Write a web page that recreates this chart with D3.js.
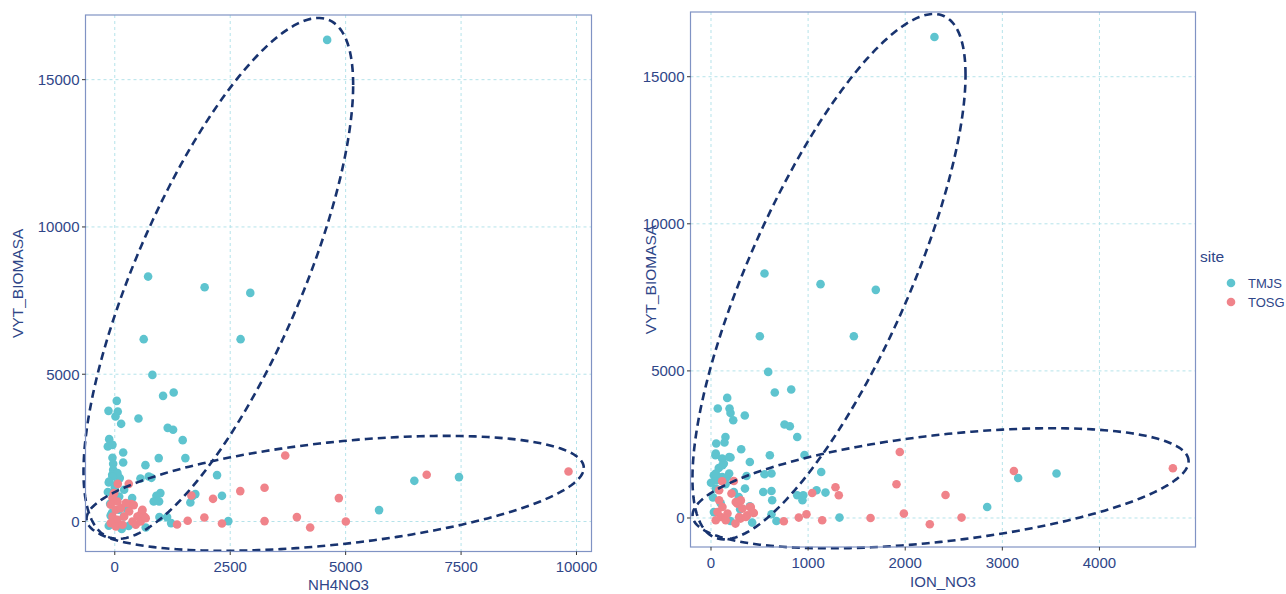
<!DOCTYPE html>
<html>
<head>
<meta charset="utf-8">
<script src="https://cdn.jsdelivr.net/npm/d3@7"></script>
<style>
  body { margin: 0; background: #fff; }
  text { font-family: "Liberation Sans", Arial, sans-serif; }
</style>
</head>
<body>
<svg id="chart" width="1286" height="594"></svg>
<script>
// ---- data ----
const sites = ["TMJS", "TOSG"];
const siteColors = ["#5ec4cf", "#f0838a"];

// NH4NO3 vs VYT_BIOMASA
const nh4TMJS = [[4600,16350],[722,8315],[1946,7955],[2935,7761],[627,6190],[2725,6190],[815,4978],[1046,4266],[1276,4378],
  [43,4096],[-136,3757],[65,3733],[15,3564],[513,3496],[138,3316],[1146,3180],[1263,3115],[1471,2762],[-121,2796],
  [-151,2545],[-50,2603],[182,2342],[-50,2162],[952,2152],[1529,2152],[182,2002],[-35,1958],[664,1914],[-35,1755],
  [-56,1585],[108,1473],[2215,1575],[735,1528],[794,1483],[556,1460],[-130,1324],[52,1302],[1745,930],[1674,848],
  [988,964],[902,872],[2322,872],[1637,645],[843,679],[376,794],[967,150],[1133,150],[2459,14],[1220,-54],[670,-204],
  [-130,-146],[195,170],[87,397],[6488,1381],[7455,1507],[5724,387],[58,1642],[-50,1527],[-121,1357],[203,1076],
  [95,848],[960,679],[-100,600],[-60,300],[30,-100],[150,-250],[300,-150],[250,450],[-150,1000],[0,1150],[-90,200]];
const nh4TOSG = [[65,1279],[303,1279],[-22,940],[1659,882],[2128,770],[2718,1032],[3244,1144],[355,590],[411,557],
  [593,363],[556,227],[1349,-102],[1579,24],[1940,136],[2322,-68],[3244,14],[3692,2240],[3944,150],[4232,-204],
  [4853,794],[5004,0],[6756,1585],[9827,1697],[-13,964],[-50,794],[58,679],[-87,567],[22,397],[130,455],[238,624],
  [311,339],[203,170],[-50,170],[58,58],[-87,-54],[22,-170],[167,-112],[383,0],[491,170],[599,397],[636,170],
  [454,-112],[562,0],[670,115]];

// ION_NO3 vs VYT_BIOMASA
const ionTMJS = [[2301,16350],[551,8313],[1128,7949],[1697,7755],[503,6180],[1471,6180],[589,4966],[657,4265],[826,4367],
  [167,4082],[70,3721],[191,3721],[201,3571],[229,3323],[348,3483],[757,3177],[812,3119],[888,2755],[54,2531],
  [149,2755],[139,2565],[311,2337],[46,2133],[606,2133],[963,2143],[201,2054],[115,2020],[132,1850],[400,1905],
  [1135,1565],[551,1486],[623,1510],[366,1429],[29,1452],[57,1282],[115,1395],[167,1395],[1087,942],[1179,864],
  [538,884],[623,918],[630,602],[888,772],[950,772],[942,602],[235,884],[286,714],[623,126],[674,-102],[424,-156],
  [1323,14],[2844,374],[3163,1361],[3558,1510],[50,1000],[20,700],[100,500],[300,300],[200,-100],[30,200],
  [400,400],[350,1000],[80,1700],[0,1200],[150,1150],[49,2190],[187,2075],[118,1793],[49,1510],[187,1510]];
const ionTOSG = [[115,1248],[235,1259],[211,830],[1042,850],[1282,1044],[1316,772],[750,-112],[904,14],[983,126],
  [1145,-78],[1643,0],[1944,2245],[1910,1146],[1986,150],[2253,-214],[2415,782],[2580,14],[3119,1599],[4756,1690],
  [304,578],[270,490],[400,374],[441,170],[373,92],[304,-20],[252,-190],[84,942],[84,602],[118,374],[67,204],
  [101,34],[152,-78],[49,-78],[170,150],[255,544],[307,602],[324,320],[410,374],[427,204],[290,34],[358,34]];

// 95% ellipses per site: centre plus conjugate half axes (x = cx + a cos t, y = cy + b cos t + c sin t)
const nh4Ellipses = [
  {site: "TMJS", cx: 2243, cy: 8253, a: 2920, b: 6567, c: 5919},
  {site: "TOSG", cx: 4773, cy: 957, a: 5385, b: 865, c: 1748}];
const ionEllipses = [
  {site: "TMJS", cx: 1215, cy: 8204, a: 1406, b: 6854, c: 5723},
  {site: "TOSG", cx: 2364, cy: 1010, a: 2554, b: 918, c: 1823}];

const nh4XTicks = [0, 2500, 5000, 7500, 10000];
const ionXTicks = [0, 1000, 2000, 3000, 4000];
const yTicks = [0, 5000, 10000, 15000];

// ---- drawing ----
const textCol = "#2f4688";
const svg = d3.select("#chart");
const color = d3.scaleOrdinal().domain(sites).range(siteColors);

const panels = [
  {left: 85.5, right: 591.5, top: 15, bottom: 551.5, xDom: [-634, 10325], yDom: [-1018, 17195],
   xTicks: nh4XTicks, xTitle: "NH4NO3", xTickY: 572, xTitleY: 590, yTitleX: 23,
   series: [nh4TMJS, nh4TOSG], ellipses: nh4Ellipses},
  {left: 690.5, right: 1195.5, top: 12, bottom: 547, xDom: [-211, 4989], yDom: [-986, 17200],
   xTicks: ionXTicks, xTitle: "ION_NO3", xTickY: 568, xTitleY: 587, yTitleX: 656,
   series: [ionTMJS, ionTOSG], ellipses: ionEllipses}
];

panels.forEach(p => {
  const x = d3.scaleLinear().domain(p.xDom).range([p.left, p.right]);
  const y = d3.scaleLinear().domain(p.yDom).range([p.bottom, p.top]);
  const g = svg.append("g");

  // grid
  g.selectAll(".gx").data(p.xTicks).enter().append("line")
    .attr("x1", d => x(d)).attr("x2", d => x(d)).attr("y1", p.top).attr("y2", p.bottom)
    .attr("stroke", "#b5e3ea").attr("stroke-width", 1).attr("stroke-dasharray", "3,3");
  g.selectAll(".gy").data(yTicks).enter().append("line")
    .attr("y1", d => y(d)).attr("y2", d => y(d)).attr("x1", p.left).attr("x2", p.right)
    .attr("stroke", "#b5e3ea").attr("stroke-width", 1).attr("stroke-dasharray", "3,3");

  // points
  p.series.forEach((pts, i) => {
    g.append("g").selectAll("circle").data(pts).enter().append("circle")
      .attr("cx", d => x(d[0])).attr("cy", d => y(d[1])).attr("r", 4.3)
      .attr("fill", color(sites[i]));
  });

  // ellipses
  const line = d3.line().x(d => x(d[0])).y(d => y(d[1]));
  p.ellipses.forEach(e => {
    const ring = d3.range(0, 201).map(i => {
      const t = i / 200 * 2 * Math.PI;
      return [e.cx + e.a * Math.cos(t), e.cy + e.b * Math.cos(t) + e.c * Math.sin(t)];
    });
    g.append("path").attr("d", line(ring)).attr("fill", "none")
      .attr("stroke", "#18336f").attr("stroke-width", 2.6).attr("stroke-dasharray", "8,5");
  });

  // border
  g.append("rect").attr("x", p.left).attr("y", p.top)
    .attr("width", p.right - p.left).attr("height", p.bottom - p.top)
    .attr("fill", "none").attr("stroke", "#8093c4").attr("stroke-width", 1.2);

  // axes
  const xa = g.append("g");
  p.xTicks.forEach(t => {
    xa.append("line").attr("x1", x(t)).attr("x2", x(t)).attr("y1", p.bottom).attr("y2", p.bottom + 3.5)
      .attr("stroke", "#333").attr("stroke-width", 1);
    xa.append("text").attr("x", x(t)).attr("y", p.xTickY).attr("text-anchor", "middle")
      .attr("font-size", 15).attr("fill", textCol).text(t);
  });
  const ya = g.append("g");
  yTicks.forEach(t => {
    ya.append("line").attr("x1", p.left - 3.5).attr("x2", p.left).attr("y1", y(t)).attr("y2", y(t))
      .attr("stroke", "#333").attr("stroke-width", 1);
    ya.append("text").attr("x", p.left - 6).attr("y", y(t)).attr("dy", "0.36em").attr("text-anchor", "end")
      .attr("font-size", 15).attr("fill", textCol).text(t);
  });
  g.append("text").attr("x", (p.left + p.right) / 2).attr("y", p.xTitleY).attr("text-anchor", "middle")
    .attr("font-size", 15).attr("fill", textCol).text(p.xTitle);
  g.append("text").attr("transform", `translate(${p.yTitleX},${(p.top + p.bottom) / 2}) rotate(-90)`)
    .attr("text-anchor", "middle").attr("font-size", 15.5).attr("fill", textCol).text("VYT_BIOMASA");
});

// legend
const lg = svg.append("g").attr("transform", "translate(1200,0)");
lg.append("text").attr("x", 0).attr("y", 262).attr("font-size", 15.5).attr("fill", textCol).text("site");
sites.forEach((s, i) => {
  lg.append("circle").attr("cx", 31).attr("cy", 283 + i * 19).attr("r", 4.3).attr("fill", color(s));
  lg.append("text").attr("x", 48).attr("y", 283 + i * 19).attr("dy", "0.36em")
    .attr("font-size", 13).attr("fill", textCol).text(s);
});
</script>
</body>
</html>
